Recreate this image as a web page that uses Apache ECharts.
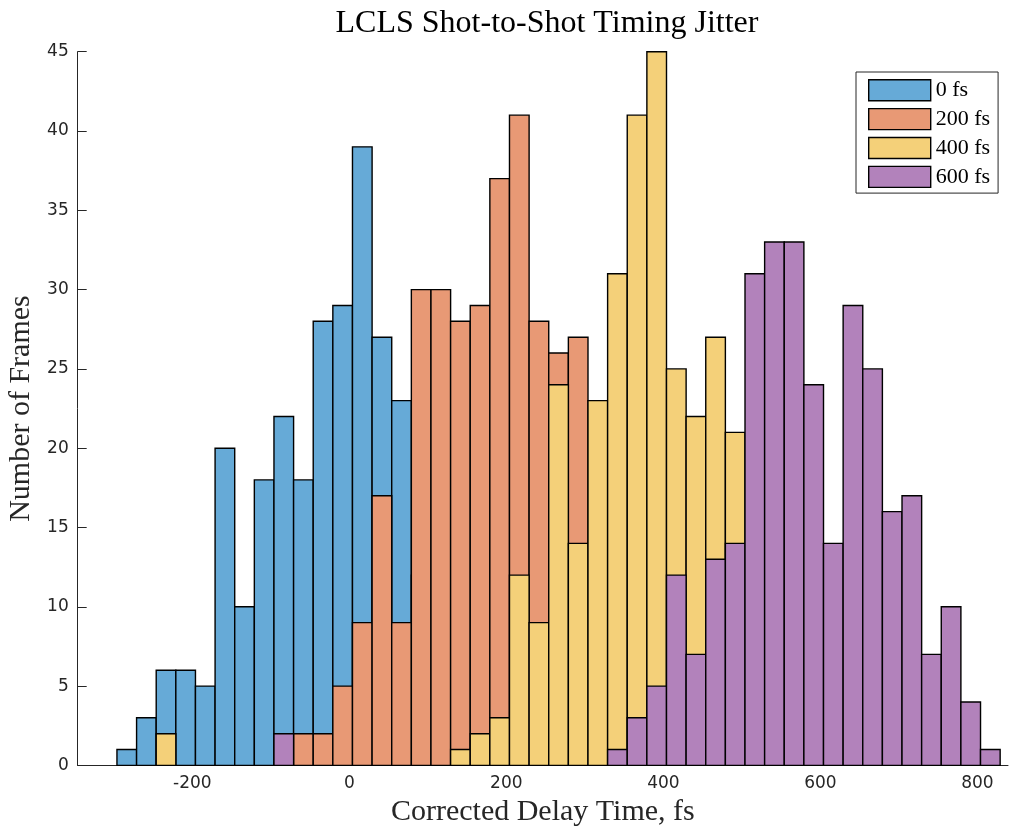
<!DOCTYPE html>
<html>
<head>
<meta charset="utf-8">
<script src="https://cdn.jsdelivr.net/npm/echarts@6/dist/echarts.min.js"></script>
<style>html,body{margin:0;padding:0;background:#fff;}#chart{width:1009px;height:827px;}</style>
</head>
<body>
<div id="chart"></div>
<script>
// Histogram bin edges (fs)
var binEdges = [-296,-271,-246,-221,-196,-171,-146,-121,-96,-71,-46,-21,4,29,54,79,104,129,154,179,204,229,254,279,304,329,354,379,404,429,454,479,504,529,554,579,604,629,654,679,704,729,754,779,804,829];
// Counts per bin for each nominal delay
var counts0 = [1,3,6,6,5,20,10,18,22,18,28,29,39,27,23,12,6,3,1,0,0,0,0,0,0,0,0,0,0,0,0,0,0,0,0,0,0,0,0,0,0,0,0,0,0];
var counts200 = [0,0,0,0,0,0,0,0,0,2,2,5,9,17,9,30,30,28,29,37,41,28,26,27,12,6,3,1,0,0,0,0,0,0,0,0,0,0,0,0,0,0,0,0,0];
var counts400 = [0,0,2,0,0,0,0,0,0,0,0,0,0,0,0,0,0,1,2,3,12,9,24,14,23,31,41,45,25,22,27,21,10,5,2,0,0,0,0,0,0,0,0,0,0];
var counts600 = [0,0,0,0,0,0,0,0,2,0,0,0,0,0,0,0,0,0,0,0,0,0,0,0,0,1,3,5,12,7,13,14,31,33,33,24,14,29,25,16,17,7,10,4,1];
var seriesNames = ['0 fs','200 fs','400 fs','600 fs'];
var seriesColors = ['#66aad7','#e89975','#f4d079','#b282bb'];
var xTicks = [-200,0,200,400,600,800];

var allCounts = [counts0, counts200, counts400, counts600];

function buildData(c){
  var d = [];
  for (var i = 0; i < c.length; i++) d.push([binEdges[i], binEdges[i+1], c[i]]);
  return d;
}

var series = allCounts.map(function(c, idx){
  return {
    type: 'custom',
    name: seriesNames[idx],
    z: 2 + idx,
    itemStyle: {color: seriesColors[idx], borderColor: '#000', borderWidth: 1.4},
    encode: {x: [0,1], y: 2},
    data: buildData(c),
    renderItem: function(params, api){
      var v = api.value(2);
      if (!v) return null;
      var p0 = api.coord([api.value(0), v]);
      var p1 = api.coord([api.value(1), 0]);
      return {
        type: 'rect',
        shape: {x: p0[0], y: p0[1], width: p1[0]-p0[0], height: p1[1]-p0[1]},
        style: {fill: seriesColors[idx], stroke: '#000', lineWidth: 1.4}
      };
    }
  };
});

var chart = echarts.init(document.getElementById('chart'), null, {renderer: 'canvas'});
chart.setOption({
  animation: false,
  backgroundColor: '#fff',
  grid: {left: 77.7, right: 1, top: 51.7, bottom: 61.6, containLabel: false, outerBoundsMode: 'none'},
  graphic: [{
    type: 'text', x: 547, y: 24,
    style: {text: 'LCLS Shot-to-Shot Timing Jitter', fontFamily: 'Liberation Serif', fontSize: 32, fill: '#000', textAlign: 'center', textVerticalAlign: 'middle'}
  }],
  legend: {
    orient: 'vertical', left: 856, top: 72,
    padding: [7, 8, 5, 12],
    borderColor: '#262626', borderWidth: 1, backgroundColor: '#fff',
    itemWidth: 62, itemHeight: 21, itemGap: 6.5,
    textStyle: {fontFamily: 'Liberation Serif', fontSize: 22, color: '#000'},
    data: seriesNames.map(function(n, i){
      return {name: n, icon: 'rect', itemStyle: {color: seriesColors[i], borderColor: '#000', borderWidth: 1.4}};
    })
  },
  xAxis: {
    type: 'value', min: -346, max: 839,
    name: 'Corrected Delay Time, fs', nameLocation: 'middle', nameGap: 31,
    nameTextStyle: {fontFamily: 'Liberation Serif', fontSize: 30, color: '#262626'},
    axisLine: {show: true, onZero: false, lineStyle: {color: '#262626', width: 1}},
    axisTick: {show: true, inside: true, length: 9, customValues: xTicks, lineStyle: {color: '#262626'}},
    axisLabel: {customValues: xTicks, fontFamily: 'DejaVu Sans', fontSize: 17, color: '#262626', margin: 10},
    splitLine: {show: false}
  },
  yAxis: {
    type: 'value', min: 0, max: 45, interval: 5,
    name: 'Number of Frames', nameLocation: 'middle', nameGap: 41,
    nameTextStyle: {fontFamily: 'Liberation Serif', fontSize: 30, color: '#262626'},
    axisLine: {show: true, onZero: false, lineStyle: {color: '#262626', width: 1}},
    axisTick: {show: true, inside: true, length: 9, lineStyle: {color: '#262626'}},
    axisLabel: {fontFamily: 'DejaVu Sans', fontSize: 17, color: '#262626', margin: 9},
    splitLine: {show: false}
  },
  series: series
});
</script>
</body>
</html>
